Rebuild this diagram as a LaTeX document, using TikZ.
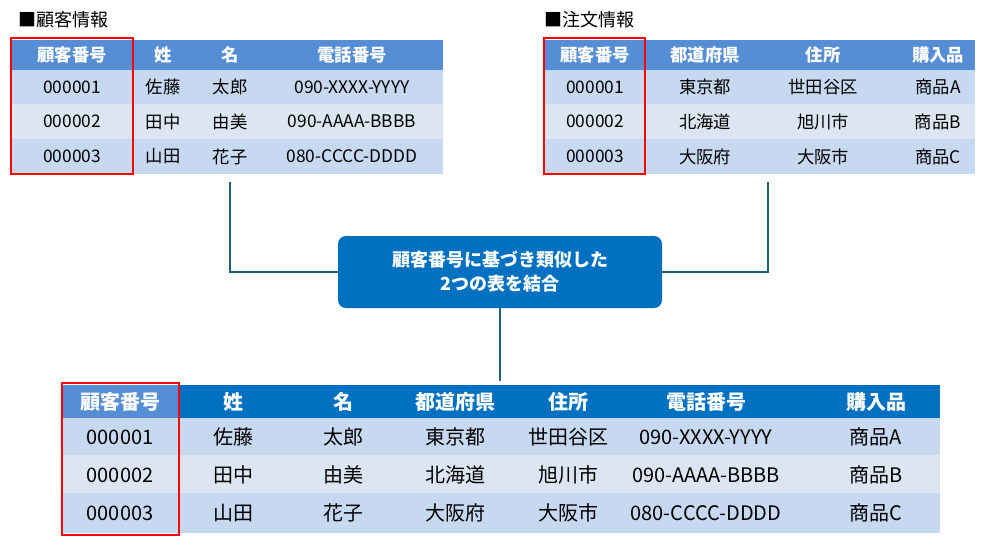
\documentclass[tikz,border=0pt]{standalone}
\usepackage{fontspec}
\setmainfont{Noto Sans CJK JP}
\usetikzlibrary{positioning}
\definecolor{hdlight}{HTML}{558ED5}
\definecolor{hddark}{HTML}{0070C0}
\definecolor{rowa}{HTML}{C6D9F1}
\definecolor{rowb}{HTML}{DCE6F2}
\definecolor{linkc}{HTML}{215F7A}
\tikzset{
  cell/.style={inner sep=0pt,font=\fontsize{13}{13}\selectfont},
  big/.style={inner sep=0pt,font=\fontsize{15}{15}\selectfont},
  head/.style={inner sep=0pt,text=white,font=\bfseries\fontsize{13}{13}\selectfont},
  bighead/.style={inner sep=0pt,text=white,font=\bfseries\fontsize{15}{15}\selectfont},
  keybox/.style={draw=red,line width=2.2pt},
  link/.style={draw=linkc,line width=2pt},
  title/.style={inner sep=0pt,anchor=west,font=\fontsize{13.5}{13.5}\selectfont}
}
\begin{document}
\begin{tikzpicture}[x=0.75pt,y=-0.75pt]
\useasboundingbox (0,0) rectangle (1000,544);
% top left table
\fill[hdlight] (12,40) rectangle (443,70);
\fill[rowa] (12,70) rectangle (443,104);
\fill[rowb] (12,104) rectangle (443,139);
\fill[rowa] (12,139) rectangle (443,174);
\node[title] (t1) at (18,20) {■顧客情報};
\foreach \x/\txt [count=\i] in {72/顧客番号,163/姓,230/名,352/電話番号}
  \node[head] (ah\i) at (\x,55) {\txt};
\foreach \y/\a/\b/\c/\d [count=\j] in {87/000001/佐藤/太郎/090-XXXX-YYYY,121.5/000002/田中/由美/090-AAAA-BBBB,156.5/000003/山田/花子/080-CCCC-DDDD}{
  \node[cell] (a\j k) at (72,\y) {\a};
  \node[cell] at (163,\y) {\b};
  \node[cell] at (230,\y) {\c};
  \node[cell] at (352,\y) {\d};
}
\draw[keybox] (11,38) rectangle (133,174);
% top right table
\fill[hdlight] (545,40) rectangle (975,70);
\fill[rowa] (545,70) rectangle (975,104);
\fill[rowb] (545,104) rectangle (975,139);
\fill[rowa] (545,139) rectangle (975,174);
\node[title] (t2) at (544,20) {■注文情報};
\foreach \x/\txt [count=\i] in {595/顧客番号,705/都道府県,823/住所,938/購入品}
  \node[head] (bh\i) at (\x,55) {\txt};
\foreach \y/\a/\b/\c/\d [count=\j] in {87/000001/東京都/世田谷区/商品A,121.5/000002/北海道/旭川市/商品B,156.5/000003/大阪府/大阪市/商品C}{
  \node[cell] at (595,\y) {\a};
  \node[cell] at (705,\y) {\b};
  \node[cell] at (823,\y) {\c};
  \node[cell] at (938,\y) {\d};
}
\draw[keybox] (544,38) rectangle (645,174);
% join box
\node[fill=hddark,rounded corners=6pt,minimum width=243pt,minimum height=54pt,
  text=white,align=center,font=\bfseries\fontsize{13.5}{18}\selectfont] (join) at (500,272)
  {顧客番号に基づき類似した\\2つの表を結合};
\coordinate (s1) at (230,182);
\coordinate (s2) at (768,182);
\coordinate (s3) at (500,381);
\draw[link] (s1) |- (join.west);
\draw[link] (s2) |- (join.east);
\draw[link] (join.south) -- (s3);
% result table
\fill[hddark] (62,385) rectangle (940,418);
\fill[hdlight] (62,385) rectangle (180,418);
\fill[rowa] (62,418) rectangle (940,455);
\fill[rowb] (62,455) rectangle (940,493);
\fill[rowa] (62,493) rectangle (940,533);
\foreach \x/\txt [count=\i] in {120/顧客番号,233/姓,343/名,455/都道府県,568/住所,706/電話番号,876/購入品}
  \node[bighead] (ch\i) at (\x,402) {\txt};
\foreach \y/\a/\b/\c/\d/\e/\f/\g [count=\j] in {
  437/000001/佐藤/太郎/東京都/世田谷区/090-XXXX-YYYY/商品A,
  475/000002/田中/由美/北海道/旭川市/090-AAAA-BBBB/商品B,
  513/000003/山田/花子/大阪府/大阪市/080-CCCC-DDDD/商品C}{
  \node[big] at (120,\y) {\a};
  \node[big] at (233,\y) {\b};
  \node[big] at (343,\y) {\c};
  \node[big] at (455,\y) {\d};
  \node[big] at (568,\y) {\e};
  \node[big] at (706,\y) {\f};
  \node[big] at (876,\y) {\g};
}
\draw[keybox] (62,383) rectangle (179,535);
\end{tikzpicture}
\end{document}
